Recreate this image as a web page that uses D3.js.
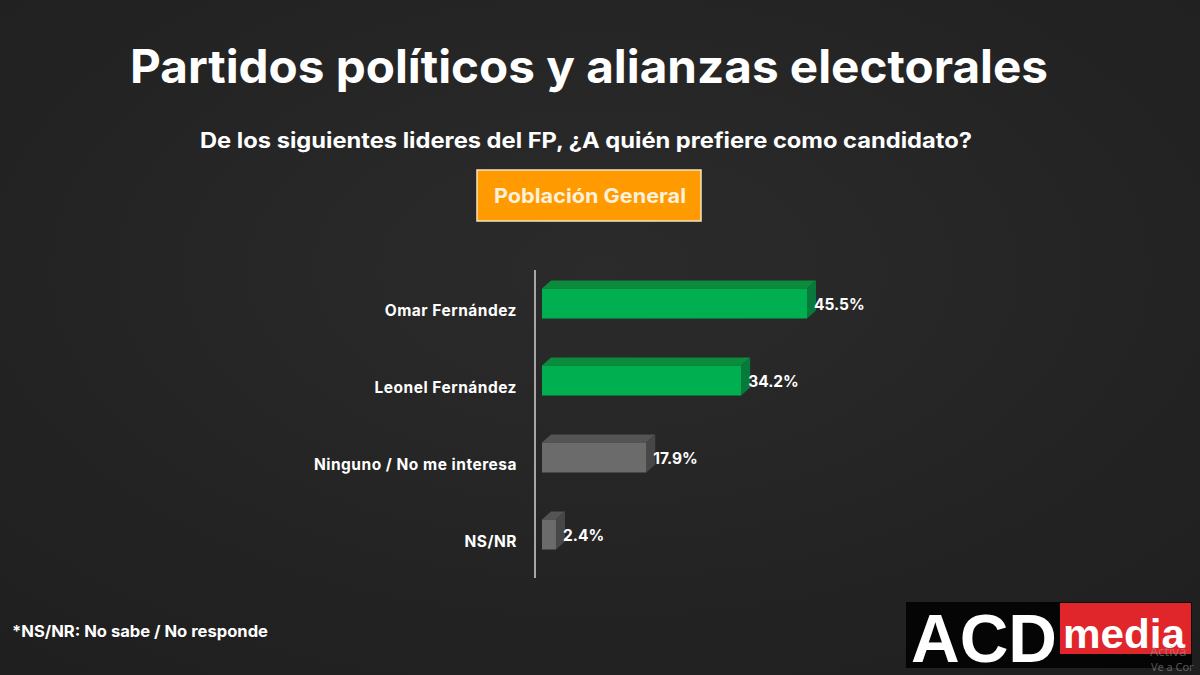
<!DOCTYPE html>
<html>
<head>
<meta charset="utf-8">
<script src="https://cdn.jsdelivr.net/npm/d3@7"></script>
<style>
  html, body { margin: 0; padding: 0; background: #262626; }
  svg { display: block; }
</style>
</head>
<body>
<svg width="1200" height="675"></svg>
<script>
// data
var categories = ["Omar Fernández", "Leonel Fernández", "Ninguno / No me interesa", "NS/NR"];
var values = [45.5, 34.2, 17.9, 2.4];
var highlighted = [true, true, false, false];

var svg = d3.select("svg");
const width = 1200, height = 675;

// background with a faint gradient
var defs = svg.append("defs");
var bg = defs.append("radialGradient").attr("id", "bg").attr("cx", "50%").attr("cy", "40%").attr("r", "75%");
bg.append("stop").attr("offset", "0%").attr("stop-color", "#2b2b2b");
bg.append("stop").attr("offset", "100%").attr("stop-color", "#1f1f1f");
svg.append("rect").attr("width", width).attr("height", height).attr("fill", "url(#bg)");

var font = "Inter, 'Open Sans', 'DejaVu Sans', sans-serif";

// titles
svg.append("text")
    .attr("x", 589).attr("y", 83)
    .attr("text-anchor", "middle")
    .attr("font-family", font).attr("font-weight", 700)
    .attr("font-size", 46).attr("fill", "#ffffff")
    .attr("textLength", 918).attr("lengthAdjust", "spacingAndGlyphs")
    .text("Partidos políticos y alianzas electorales");

svg.append("text")
    .attr("x", 586).attr("y", 148)
    .attr("text-anchor", "middle")
    .attr("font-family", font).attr("font-weight", 700)
    .attr("font-size", 21).attr("fill", "#ffffff")
    .attr("textLength", 772).attr("lengthAdjust", "spacingAndGlyphs")
    .text("De los siguientes lideres del FP, ¿A quién prefiere como candidato?");

// orange box
svg.append("rect")
    .attr("x", 477).attr("y", 170).attr("width", 224).attr("height", 51)
    .attr("fill", "#ff9a00").attr("stroke", "#f6e3c0").attr("stroke-width", 1.5);
svg.append("text")
    .attr("x", 590).attr("y", 203)
    .attr("text-anchor", "middle")
    .attr("font-family", font).attr("font-weight", 700)
    .attr("font-size", 20).attr("fill", "#fdf1dc")
    .attr("textLength", 192).attr("lengthAdjust", "spacingAndGlyphs")
    .text("Población General");

// scales
var x = d3.scaleLinear().domain([0, 50]).range([542, 542 + 291.2]);
var y = d3.scalePoint().domain(categories).range([265, 573]).padding(0.5);
var barH = 30, dx = 9, dy = 8;

var colors = {
    on: { front: "#00b050", top: "#0b8c3d", side: "#07793a" },
    off: { front: "#6b6b6b", top: "#545454", side: "#474747" }
};

// axis line
svg.append("line")
    .attr("x1", 535).attr("x2", 535)
    .attr("y1", 270).attr("y2", 578)
    .attr("stroke", "#a6a6a6").attr("stroke-width", 2);

var rows = categories.map(function (c, i) {
    return { name: c, value: values[i], col: highlighted[i] ? colors.on : colors.off };
});

var bar = svg.append("g").selectAll("g")
    .data(rows).enter().append("g");

// top face
bar.append("path")
    .attr("fill", function (d) { return d.col.top; })
    .attr("d", function (d) {
        var x0 = x(0), x1 = x(d.value), y0 = y(d.name) - barH / 2;
        return "M" + x0 + "," + y0 + "L" + (x0 + dx) + "," + (y0 - dy) +
            "L" + (x1 + dx) + "," + (y0 - dy) + "L" + x1 + "," + y0 + "Z";
    });

// side face
bar.append("path")
    .attr("fill", function (d) { return d.col.side; })
    .attr("d", function (d) {
        var x1 = x(d.value), y0 = y(d.name) - barH / 2;
        return "M" + x1 + "," + y0 + "L" + (x1 + dx) + "," + (y0 - dy) +
            "L" + (x1 + dx) + "," + (y0 - dy + barH) + "L" + x1 + "," + (y0 + barH) + "Z";
    });

// front face
bar.append("rect")
    .attr("x", x(0))
    .attr("y", function (d) { return y(d.name) - barH / 2; })
    .attr("width", function (d) { return x(d.value) - x(0); })
    .attr("height", barH)
    .attr("fill", function (d) { return d.col.front; });

// value labels
bar.append("text")
    .attr("x", function (d) { return x(d.value) + 7; })
    .attr("y", function (d) { return y(d.name) + 6; })
    .attr("font-family", font).attr("font-weight", 700)
    .attr("font-size", 15.5).attr("fill", "#ffffff")
    .text(function (d) { return d.value.toFixed(1) + "%"; });

// category labels
bar.append("text")
    .attr("x", 517)
    .attr("y", function (d) { return y(d.name) + 12; })
    .attr("text-anchor", "end")
    .attr("font-family", font).attr("font-weight", 700)
    .attr("font-size", 15.5).attr("fill", "#ffffff")
    .attr("letter-spacing", 0.5)
    .text(function (d) { return d.name; });

// footnote
svg.append("text")
    .attr("x", 12).attr("y", 637)
    .attr("font-family", font).attr("font-weight", 700)
    .attr("font-size", 16).attr("fill", "#ffffff")
    .attr("textLength", 256).attr("lengthAdjust", "spacingAndGlyphs")
    .text("*NS/NR: No sabe / No responde");

// logo
var logo = svg.append("g");
logo.append("rect").attr("x", 906).attr("y", 602).attr("width", 286).attr("height", 66).attr("fill", "#050505");
logo.append("rect").attr("x", 1060).attr("y", 603).attr("width", 131).attr("height", 51).attr("fill", "#e0262b");
logo.append("text")
    .attr("x", 984).attr("y", 662)
    .attr("text-anchor", "middle")
    .attr("font-family", "'Liberation Sans', Arial, sans-serif").attr("font-weight", 700)
    .attr("font-size", 68).attr("fill", "#ffffff")
    .attr("textLength", 146).attr("lengthAdjust", "spacingAndGlyphs")
    .text("ACD");
logo.append("text")
    .attr("x", 1124).attr("y", 648)
    .attr("text-anchor", "middle")
    .attr("font-family", "'Liberation Sans', Arial, sans-serif").attr("font-weight", 700)
    .attr("font-size", 40).attr("fill", "#ffffff")
    .attr("textLength", 122).attr("lengthAdjust", "spacingAndGlyphs")
    .text("media");

// faint watermark, showing only the part that is visible in the source
svg.append("text").attr("x", 1150).attr("y", 656)
    .attr("font-family", "'Noto Sans', sans-serif").attr("font-size", 13).attr("fill", "#9a9a9a").attr("opacity", 0.55)
    .text("Activa");
svg.append("text").attr("x", 1151).attr("y", 671)
    .attr("font-family", "'Noto Sans', sans-serif").attr("font-size", 11).attr("fill", "#9a9a9a").attr("opacity", 0.55)
    .text("Ve a Cor");
</script>
</body>
</html>
